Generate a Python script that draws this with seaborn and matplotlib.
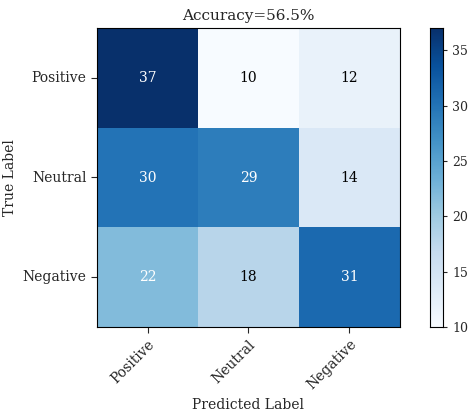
import matplotlib
matplotlib.use("Agg")
import matplotlib.pyplot as plt
import seaborn as sns
import numpy as np

labels = ["Positive", "Neutral", "Negative"]
values = [[37, 10, 12],
          [30, 29, 14],
          [22, 18, 31]]
accuracy = "56.5%"

sns.set_style("white")
plt.rcParams['font.family'] = ['DejaVu Serif']
cm = np.array(values)
fig = plt.figure(figsize=(4.74, 4.15), dpi=100)
ax = fig.add_axes([97/474, 88/415, 303/474, 299/415])
cax = fig.add_axes([430/474, 88/415, 13/474, 299/415])
thresh = cm.max() / 2
annot_colors = [["white" if v > thresh else "black" for v in row] for row in values]
sns.heatmap(cm, ax=ax, cbar_ax=cax, cmap="Blues", annot=False,
            xticklabels=labels, yticklabels=labels)
for i in range(3):
    for j in range(3):
        ax.text(j + 0.5, i + 0.5, str(values[i][j]), ha="center", va="center",
                color=annot_colors[i][j], fontsize=10)
for s in ax.spines.values():
    s.set_visible(True); s.set_color("black")
ax.tick_params(left=True, bottom=True, length=4)
plt.setp(ax.get_xticklabels(), rotation=45, ha="right", rotation_mode="anchor", fontsize=10)
plt.setp(ax.get_yticklabels(), rotation=0, fontsize=10)
ax.set_xlabel("Predicted Label", fontsize=10)
ax.set_ylabel("True Label", fontsize=10)
ax.set_title("Accuracy=" + accuracy, fontsize=11)
cax.set_yticks([10, 15, 20, 25, 30, 35])
cax.tick_params(labelsize=9, right=True, length=3)
for s in cax.spines.values():
    s.set_visible(True); s.set_color("black")
fig.savefig("out.png", dpi=100)
